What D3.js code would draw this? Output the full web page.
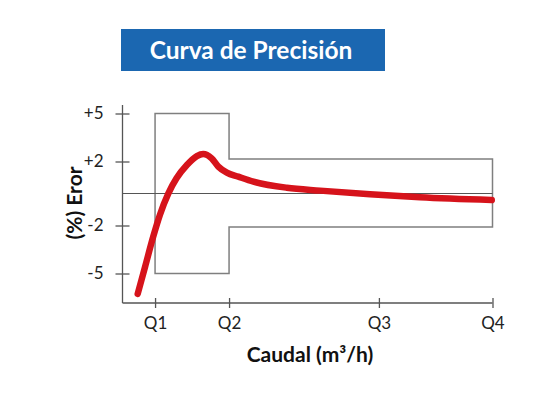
<!DOCTYPE html>
<html>
<head>
<meta charset="utf-8">
<script src="https://cdn.jsdelivr.net/npm/d3@7"></script>
<style>
	body { margin: 0; background: #fff; }
	svg { display: block; font-family: Lato, "Open Sans", sans-serif; }
</style>
</head>
<body>
<div class="chart"></div>
<script>
/*
----------------------------------------------------------
                   data
----------------------------------------------------------
*/
var title = "Curva de Precisión";
var xLabel = "Caudal (m³/h)";
var yLabel = "(%) Eror";

var qNames = ["Q1", "Q2", "Q3", "Q4"];
var qValues = [8.8, 28.8, 69.3, 100];

var yTickValues = [5, 2, -2, -5];
var yTickLabels = ["+5", "+2", "-2", "-5"];

// tolerance limits, lower flow zone (Q1-Q2) and upper zone (Q2-Q4)
var lowZone = { from: 8.8, to: 28.8, top: 5, bottom: -5 };
var highZone = { from: 28.8, to: 100, top: 2.15, bottom: -2.1 };

// measured error curve
var curveX = [4.1, 6.1, 8.3, 10.1, 12.4, 14.6, 17.4, 20.1, 21.8, 24.1, 25.9, 28.2, 31.3, 35.4, 44.4, 53.4, 66.9, 80.4, 99.8];
var curveY = [-6.28, -4.58, -2.7, -1.34, 0.01, 0.95, 1.78, 2.34, 2.47, 2.2, 1.68, 1.3, 1.05, 0.74, 0.36, 0.18, -0.05, -0.24, -0.41];

/*
----------------------------------------------------------
                   chart
----------------------------------------------------------
*/
var width = 553, height = 394;
var plotLeft = 122.5, plotRight = 492.5, plotTop = 105, plotBottom = 303;

var svg = d3.select(".chart").append("svg")
	.attr("width", width)
	.attr("height", height);

var x = d3.scaleLinear().domain([0, 100]).range([plotLeft, plotRight]);
var y = d3.scaleLinear().domain([0, 5]).range([193.5, 113.5]);

// title banner
svg.append("rect")
	.attr("x", 121).attr("y", 29)
	.attr("width", 264).attr("height", 42)
	.attr("fill", "#1b67b1");
svg.append("text")
	.attr("x", 251).attr("y", 59)
	.attr("text-anchor", "middle")
	.attr("fill", "#fff")
	.attr("font-size", 24.5)
	.attr("font-weight", "bold")
	.text(title);

// tolerance outline
var box = [
	[lowZone.from, lowZone.top], [lowZone.to, lowZone.top], [lowZone.to, highZone.top],
	[highZone.to, highZone.top], [highZone.to, highZone.bottom], [lowZone.to, highZone.bottom],
	[lowZone.to, lowZone.bottom], [lowZone.from, lowZone.bottom]
];
svg.append("path")
	.attr("d", d3.line().x(function(d) { return x(d[0]); }).y(function(d) { return y(d[1]); })(box) + "Z")
	.attr("fill", "none")
	.attr("stroke", "#7f7f7f")
	.attr("stroke-width", 1.5);

// zero line
svg.append("line")
	.attr("x1", x(0)).attr("x2", x(100))
	.attr("y1", y(0)).attr("y2", y(0))
	.attr("stroke", "#555")
	.attr("stroke-width", 1.2);

// axes
var yAxis = svg.append("g")
	.attr("transform", "translate(" + plotLeft + ",0)")
	.call(d3.axisLeft(y).tickValues(yTickValues).tickSize(7).tickPadding(12)
		.tickFormat(function(d, i) { return yTickLabels[i]; }));
yAxis.select(".domain").attr("d", "M0," + plotTop + "V" + plotBottom);
yAxis.selectAll(".tick line").attr("x1", -7).attr("x2", 7);

var xAxis = svg.append("g")
	.attr("transform", "translate(0," + plotBottom + ")")
	.call(d3.axisBottom(x).tickValues(qValues).tickSize(5).tickPadding(9)
		.tickFormat(function(d, i) { return qNames[i]; }));
xAxis.select(".domain").attr("d", "M" + plotLeft + ",0H" + plotRight);
xAxis.selectAll(".tick line").attr("y1", -5).attr("y2", 5);

svg.selectAll(".domain, .tick line").attr("stroke", "#555").attr("stroke-width", 1.3);
svg.selectAll(".tick text")
	.attr("font-family", "Lato, sans-serif")
	.attr("font-size", 17)
	.attr("fill", "#222");

// axis titles
svg.append("text")
	.attr("x", 310).attr("y", 362)
	.attr("text-anchor", "middle")
	.attr("font-size", 21)
	.attr("font-weight", "bold")
	.attr("fill", "#111")
	.text(xLabel);
svg.append("text")
	.attr("transform", "translate(82,203) rotate(-90)")
	.attr("text-anchor", "middle")
	.attr("font-size", 21)
	.attr("font-weight", "bold")
	.attr("fill", "#111")
	.text(yLabel);

// error curve
var points = curveX.map(function(v, i) { return [v, curveY[i]]; });
svg.append("path")
	.attr("d", d3.line().curve(d3.curveMonotoneX)
		.x(function(d) { return x(d[0]); })
		.y(function(d) { return y(d[1]); })(points))
	.attr("fill", "none")
	.attr("stroke", "#d6131b")
	.attr("stroke-width", 6.5)
	.attr("stroke-linecap", "round");
</script>
</body>
</html>
